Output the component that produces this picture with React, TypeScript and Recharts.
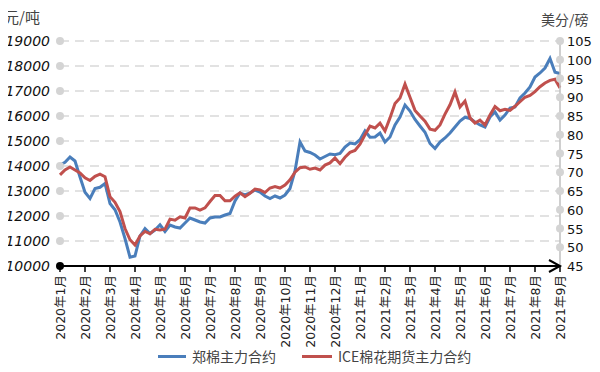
import React from "react"
import {
  LineChart, Line, XAxis, YAxis, CartesianGrid, Legend,
} from "recharts"

// month ticks, Jan 2020 .. Sep 2021
const monthLabels = [
  "2020年1月", "2020年2月", "2020年3月", "2020年4月", "2020年5月", "2020年6月",
  "2020年7月", "2020年8月", "2020年9月", "2020年10月", "2020年11月", "2020年12月",
  "2021年1月", "2021年2月", "2021年3月", "2021年4月", "2021年5月", "2021年6月",
  "2021年7月", "2021年8月", "2021年9月",
]
const monthTicks = monthLabels.map((_, i) => i)

const cnyTicks = [10000, 11000, 12000, 13000, 14000, 15000, 16000, 17000, 18000, 19000]
const usTicks = [45, 50, 55, 60, 65, 70, 75, 80, 85, 90, 95, 100, 105]

// 郑棉主力合约, 元/吨, 5 readings per month
const zhengMian = [
  14040, 14150, 14360, 14200, 13560, 12950, 12700, 13100, 13150, 13300,
  12500, 12250, 11760, 11100, 10350, 10400, 11200, 11500, 11300, 11440,
  11650, 11380, 11640, 11560, 11520, 11720, 11920, 11840, 11760, 11720,
  11920, 11960, 11960, 12040, 12100, 12600, 12920, 12840, 12920, 13040,
  12960, 12800, 12700, 12800, 12720, 12840, 13100, 13800, 14960, 14600,
  14540, 14440, 14280, 14380, 14480, 14450, 14500, 14760, 14920, 14880,
  15050, 15400, 15150, 15160, 15320, 14960, 15160, 15640, 15960, 16440,
  16200, 15860, 15600, 15350, 14900, 14700, 14960, 15120, 15320, 15560,
  15800, 15950, 15900, 15760, 15640, 15560, 15960, 16160, 15840, 16040,
  16320, 16360, 16720, 16920, 17160, 17560, 17720, 17920, 18300, 17750,
  17700,
]

// ICE棉花期货主力合约, 美分/磅
const iceCotton = [
  69.3, 70.6, 71.4, 70.6, 69.8, 68.5, 67.8, 68.9, 69.5, 68.8,
  63.5, 62.0, 59.5, 55.0, 52.0, 50.6, 53.0, 54.2, 53.6, 54.8,
  54.6, 54.8, 57.5, 57.2, 58.1, 57.8, 60.5, 60.5, 59.9, 60.5,
  62.2, 63.8, 63.8, 62.4, 62.4, 63.6, 64.5, 63.5, 64.4, 65.5,
  65.3, 64.6, 65.8, 66.2, 65.8, 66.6, 68.0, 70.0, 71.2, 71.4,
  70.8, 71.1, 70.6, 71.9, 72.5, 73.8, 72.3, 74.0, 75.3, 75.8,
  77.5, 80.0, 82.3, 81.8, 83.1, 81.0, 84.5, 88.3, 89.8, 93.5,
  90.0, 86.5, 85.0, 83.6, 81.5, 81.2, 82.6, 85.5, 88.0, 91.4,
  87.4, 89.0, 84.5, 83.1, 83.9, 82.6, 85.3, 87.5, 86.4, 86.8,
  86.5, 87.6, 88.8, 90.0, 90.5, 91.5, 92.8, 93.8, 94.5, 94.8,
  92.5,
]

const data = zhengMian.map((v, i) => ({ t: i / 5, zm: v, ice: iceCotton[i] }))

const BLUE = "#4a7ebb"
const RED = "#c0504d"
const numFont = "'DejaVu Sans', 'Noto Sans CJK SC', sans-serif"
const cjkFont = "'Noto Sans CJK SC', 'DejaVu Sans', sans-serif"

function LeftTick({ x, y, payload }: any) {
  const base = payload.value === 10000
  return (
    <g>
      <circle cx={x} cy={y} r={4} fill={base ? "#000" : "#d4d4d4"} />
      <text x={x - 10} y={y + 5} textAnchor="end" fontSize={14} fontStyle="italic"
        fontFamily={numFont} fill="#111">{payload.value}</text>
    </g>
  )
}

function RightTick({ x, y, payload }: any) {
  return (
    <g>
      {payload.value > 45 && <circle cx={x} cy={y} r={4} fill="#d4d4d4" />}
      <text x={x + 7} y={y + 5} textAnchor="start" fontSize={13}
        fontFamily={numFont} fill="#111">{payload.value}</text>
    </g>
  )
}

function MonthTick({ x, y, payload, index }: any) {
  const label = monthLabels[Math.round(payload.value)]
  const axisY = y - 6
  return (
    <g>
      {index === monthLabels.length - 1 && (
        <path d={`M${x - 11} ${axisY - 6} L${x} ${axisY} L${x - 11} ${axisY + 6}`}
          stroke="#000" strokeWidth={2} fill="none" />
      )}
      <text x={x + 5} y={y + 3} transform={`rotate(-90 ${x + 5} ${y + 3})`}
        textAnchor="end" fontSize={12.5} fontFamily={numFont} fill="#222">{label}</text>
    </g>
  )
}

function LegendBox() {
  const item = (color: string, text: string, w: number) => (
    <div style={{ display: "flex", alignItems: "center", marginRight: 26 }}>
      <div style={{ width: w, height: 3, background: color, marginRight: 6 }} />
      <span style={{ fontFamily: cjkFont, fontSize: 14, color: "#444" }}>{text}</span>
    </div>
  )
  return (
    <div style={{ height: 32, display: "flex", alignItems: "center", paddingLeft: 158 }}>
      {item(BLUE, "郑棉主力合约", 28)}
      {item(RED, "ICE棉花期货主力合约", 30)}
    </div>
  )
}

export default function App() {
  return (
    <div style={{ margin: -8, position: "relative", width: 600, height: 372, background: "#fff" }}>
      <div style={{ position: "absolute", left: 4, top: 6, fontFamily: cjkFont, fontSize: 15, color: "#444" }}>元/吨</div>
      <div style={{ position: "absolute", left: 541, top: 9, fontFamily: cjkFont, fontSize: 14, color: "#444" }}>美分/磅</div>
      <LineChart width={600} height={372} data={data}
        margin={{ top: 41, right: 0, left: 0, bottom: 0 }}>
        <CartesianGrid yAxisId="cny" vertical={false} stroke="#d9d9d9"
          strokeDasharray="9 6" strokeWidth={1.5} />
        <XAxis dataKey="t" type="number" domain={[0, 20]} ticks={monthTicks}
          interval={0} height={74} tickSize={6} tickMargin={0}
          axisLine={{ stroke: "#000", strokeWidth: 2 }}
          tickLine={{ stroke: "#000", strokeWidth: 1.5 }}
          tick={<MonthTick />} />
        <YAxis yAxisId="cny" orientation="left" width={60} domain={[10000, 19000]}
          ticks={cnyTicks} interval={0} axisLine={false} tickLine={false}
          tickSize={0} tickMargin={0} tick={<LeftTick />} />
        <YAxis yAxisId="usc" orientation="right" width={40} domain={[45, 105]}
          ticks={usTicks} interval={0} axisLine={{ stroke: "#bfbfbf", strokeWidth: 1.5 }}
          tickLine={false} tickSize={0} tickMargin={0} tick={<RightTick />} />
        <Legend verticalAlign="bottom" content={<LegendBox />} />
        <Line yAxisId="cny" dataKey="zm" name="郑棉主力合约" stroke={BLUE}
          strokeWidth={3} dot={false} type="linear" isAnimationActive={false} />
        <Line yAxisId="usc" dataKey="ice" name="ICE棉花期货主力合约" stroke={RED}
          strokeWidth={3} dot={false} type="linear" isAnimationActive={false} />
      </LineChart>
    </div>
  )
}
